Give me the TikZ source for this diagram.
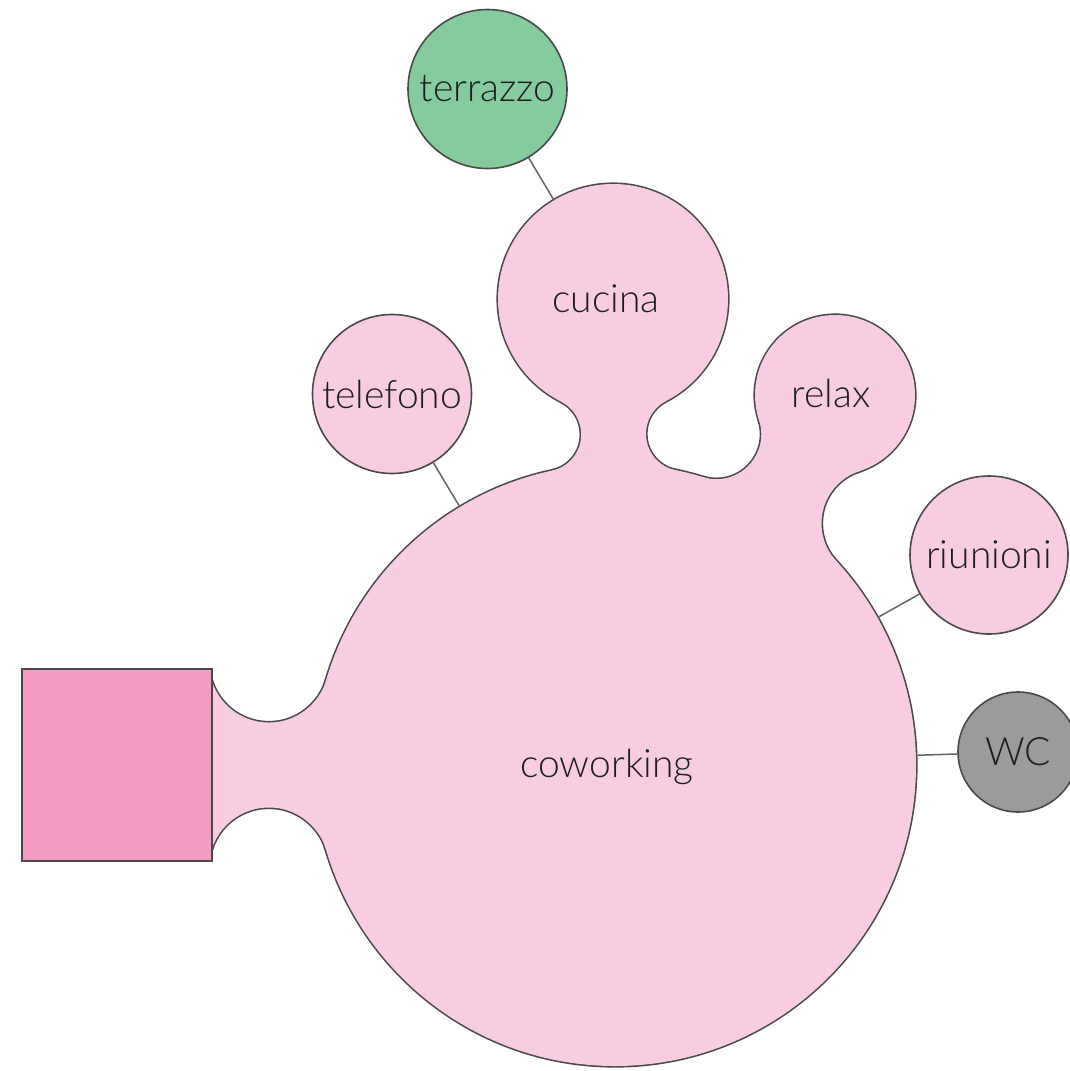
\documentclass[tikz,border=0pt]{standalone}
\usepackage{fontspec}
\setmainfont{Lato Light}
\usetikzlibrary{calc}

\definecolor{blobPink}{HTML}{F8CDE1}
\definecolor{doorPink}{HTML}{F39BC2}
\definecolor{terraceGreen}{HTML}{86CB9D}
\definecolor{wcGray}{HTML}{9B9B9B}
\definecolor{lineGray}{HTML}{4A4A4A}
\definecolor{linkGray}{HTML}{666666}
\definecolor{inkGray}{HTML}{1E1E1E}

\begin{document}
\begin{tikzpicture}[x=1pt,y=-1pt,
  roomfont/.style={font=\fontsize{39}{40}\selectfont, text=inkGray},
  anchorroom/.style={circle, inner sep=0pt, outer sep=0pt},
  roomlabel/.style={roomfont, inner sep=0pt, anchor=base},
  satellite/.style={circle, inner sep=0pt, draw=lineGray, line width=1.6pt, roomfont},
  link/.style={draw=linkGray, line width=1.5pt},
  blobedge/.style={draw=lineGray, line width=3.2pt},
]
\useasboundingbox (0,0) rectangle (1069,1071);

% centres of the joined rooms
\coordinate (B) at (615,765);      % coworking, r 301
\coordinate (A) at (613,299);      % cucina, r 115
\coordinate (R) at (835,395);      % relax, r 80
% fillet centres, each tangent to the two circles it joins
\coordinate (F1) at (544.14,434.51);  % cucina, left,  r 37
\coordinate (F2) at (683.02,433.91);  % cucina, right, r 37
\coordinate (G1) at (716.29,434.16);  % relax, left,   r 45
\coordinate (G2) at (876.49,523.43);  % relax, right,  r 55
\coordinate (S1) at (268.9,662.5);    % entrance, top,    r 60
\coordinate (S2) at (268.9,867.5);    % entrance, bottom, r 60

\def\cucNeck{(A) -- (F1) -- (B) -- (F2) -- cycle}
\def\relNeck{(R) -- (G1) -- (B) -- (G2) -- cycle}
\def\entNeck{(212,662.5) -- (S1) -- (B) -- (S2) -- (212,867.5) -- cycle}
\def\sheet{(-50,-50) rectangle (1150,1150)}

% outline: double-width strokes, inner half hidden by the fills below
\path[blobedge] (A) circle[radius=115pt] (B) circle[radius=301pt] (R) circle[radius=80pt];
\begin{scope}
  \clip \cucNeck;
  \path[blobedge] (F1) circle[radius=37pt] (F2) circle[radius=37pt];
\end{scope}
\begin{scope}
  \clip \relNeck;
  \path[blobedge] (G1) circle[radius=45pt] (G2) circle[radius=55pt];
\end{scope}
\begin{scope}
  \clip \entNeck;
  \path[blobedge] (S1) circle[radius=60pt] (S2) circle[radius=60pt];
\end{scope}

% pink body: the rooms, and the necks with the fillet discs cut away
\fill[blobPink] (A) circle[radius=115pt] (B) circle[radius=301pt] (R) circle[radius=80pt];
\begin{scope}[even odd rule]
  \clip \sheet (F1) circle[radius=37pt] (F2) circle[radius=37pt];
  \clip \sheet (G1) circle[radius=45pt] (G2) circle[radius=55pt];
  \clip \sheet (S1) circle[radius=60pt] (S2) circle[radius=60pt];
  \fill[blobPink] \cucNeck;
  \fill[blobPink] \relNeck;
  \fill[blobPink] \entNeck;
\end{scope}

% entrance block
\node[draw=lineGray, line width=1.6pt, fill=doorPink, minimum width=190pt,
      minimum height=192pt, inner sep=0pt] (entry) at (117,765) {};

% joined rooms
\node[anchorroom, minimum size=602pt] (cow) at (B) {};
\node[anchorroom, minimum size=230pt] (cuc) at (A) {};
\node[anchorroom, minimum size=160pt] (rel) at (R) {};
\node[roomlabel] (cowText) at (607,777) {coworking};
\node[roomlabel] (cucText) at (606,312) {cucina};
\node[roomlabel] (relText) at (831,407) {relax};

% separate rooms
\node[satellite, fill=terraceGreen, minimum size=159pt] (ter) at (487.5,89) {terrazzo};
\node[satellite, fill=blobPink, minimum size=159pt] (tel) at (392,394) {telefono};
\node[satellite, fill=blobPink, minimum size=158pt] (riu) at (989,555) {riunioni};
\node[satellite, fill=wcGray, minimum size=120pt] (wc) at (1018,752) {WC};

% connections
\draw[link] (ter) -- (cuc);
\draw[link] (tel) -- (cow);
\draw[link] (riu) -- (cow);
\draw[link] (wc) -- (cow);
\end{tikzpicture}
\end{document}
